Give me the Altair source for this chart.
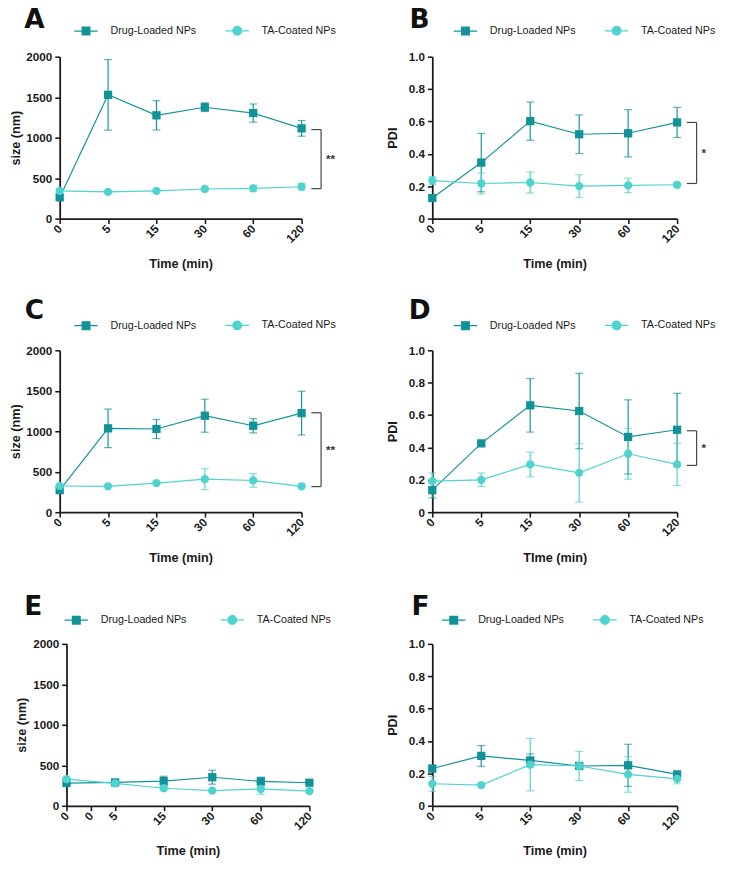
import json
import altair as alt
import pandas as pd

# ---------------- data ----------------
time_labels = ["0", "5", "15", "30", "60", "120"]
time_positions = [0, 1, 2, 3, 4, 5]
e_tick_positions = [0, 0.5, 1, 2, 3, 4, 5]
e_tick_labels = ["0", "0", "5", "15", "30", "60", "120"]

series_names = ["Drug-Loaded NPs", "TA-Coated NPs"]
series_keys = ["drug", "ta"]
series_colors = ["#12939a", "#4fd3cf"]

panel_letters = ["A", "B", "C", "D", "E", "F"]
y_titles = ["size (nm)", "PDI", "size (nm)", "PDI", "size (nm)", "PDI"]
x_titles = ["Time (min)", "Time (min)", "Time (min)", "TIme (min)", "Time (min)", "Time (min)"]

A_drug_mean = [262, 1529, 1276, 1376, 1304, 1115]
A_drug_sd = [25, 436, 181, 54, 112, 97]
A_ta_mean = [342, 330, 342, 366, 374, 394]
A_ta_sd = [15, 10, 12, 20, 38, 40]

B_drug_mean = [0.127, 0.346, 0.602, 0.521, 0.527, 0.594]
B_drug_sd = [0.015, 0.18, 0.118, 0.119, 0.146, 0.093]
B_ta_mean = [0.235, 0.217, 0.223, 0.201, 0.205, 0.209]
B_ta_sd = [0.024, 0.064, 0.065, 0.07, 0.045, 0.008]

C_drug_mean = [272, 1036, 1028, 1192, 1068, 1224]
C_drug_sd = [20, 238, 118, 204, 88, 270]
C_ta_mean = [324, 320, 360, 408, 392, 320]
C_ta_sd = [10, 10, 15, 130, 84, 10]

D_drug_mean = [0.136, 0.425, 0.66, 0.625, 0.465, 0.509]
D_drug_sd = [0.048, 0.01, 0.165, 0.233, 0.229, 0.225]
D_ta_mean = [0.192, 0.2, 0.295, 0.243, 0.361, 0.295]
D_ta_sd = [0.05, 0.042, 0.076, 0.18, 0.157, 0.13]

E_drug_mean = [281, 289, 305, 353, 301, 285]
E_drug_sd = [12, 10, 60, 86, 52, 10]
E_ta_mean = [329, 277, 217, 188, 208, 181]
E_ta_sd = [10, 10, 20, 10, 66, 10]

F_drug_mean = [0.23, 0.308, 0.28, 0.246, 0.25, 0.194]
F_drug_sd = [0.02, 0.064, 0.04, 0.015, 0.13, 0.015]
F_ta_mean = [0.136, 0.128, 0.254, 0.246, 0.194, 0.166]
F_ta_sd = [0.046, 0.01, 0.162, 0.09, 0.11, 0.03]

bracket_hi = [1100, 0.594, 1228, 0.503, None, None]
bracket_lo = [370, 0.217, 316, 0.289, None, None]
bracket_stars = ["**", "*", "**", "*", "", ""]

# ---------------- styling ----------------
FONT = "Liberation Sans"
LETTER_FONT = "DejaVu Sans"
INK = "#1a1a1a"
legend_paths = [
    "M-1,0H1M-0.33,-0.33H0.33V0.33H-0.33Z",
    "M-1,0H1M0.37,0A0.37,0.37,0,1,1,-0.37,0A0.37,0.37,0,1,1,0.37,0Z",
]

means = [
    (A_drug_mean, A_drug_sd, A_ta_mean, A_ta_sd),
    (B_drug_mean, B_drug_sd, B_ta_mean, B_ta_sd),
    (C_drug_mean, C_drug_sd, C_ta_mean, C_ta_sd),
    (D_drug_mean, D_drug_sd, D_ta_mean, D_ta_sd),
    (E_drug_mean, E_drug_sd, E_ta_mean, E_ta_sd),
    (F_drug_mean, F_drug_sd, F_ta_mean, F_ta_sd),
]

# layout per panel
widths = [248, 251, 248, 251, 256, 251]
x_offsets = [0, 0, 0, 0, 7, 0]
legend_xy = [(14, -40), (21, -40), (14, -39), (21, -39), (4, -38), (9, -38)]
letter_xy = [(-26, -29), (-13, -29), (-26, -32), (-13, -32), (-27, -30), (-12, -30)]
col_pad = [26, 26, 26, 26, 31, 26]


def make_panel(i):
    dm, ds, tm, ts = means[i]
    rows = []
    for s, (m, sd) in enumerate([(dm, ds), (tm, ts)]):
        for p, mv, sv in zip(time_positions, m, sd):
            rows.append({"pos": p, "mean": mv, "lo": mv - sv, "hi": mv + sv,
                         "series": series_names[s], "skey": series_keys[s]})
    df = pd.DataFrame(rows)
    is_size = (i % 2 == 0)
    ymax = 2000 if is_size else 1.0
    yvals = [0, 500, 1000, 1500, 2000] if is_size else [0, 0.2, 0.4, 0.6, 0.8, 1.0]
    ylab = "format(datum.value, 'd')" if is_size else \
        "datum.value == 0 ? '0' : format(datum.value, '.1f')"
    w = widths[i]
    off = x_offsets[i]
    if i == 4:
        tvals, tlabs = e_tick_positions, e_tick_labels
    else:
        tvals, tlabs = time_positions, time_labels
    xlab = f"{json.dumps(tlabs)}[indexof({json.dumps(tvals)}, datum.value)]"

    if off:
        xscale = alt.Scale(domain=[0, 5], nice=False, zero=False, range=[off, w])
    else:
        xscale = alt.Scale(domain=[0, 5], nice=False, zero=False)
    xaxis = alt.Axis(values=tvals, labelExpr=xlab, title=x_titles[i], labelAngle=-45,
                     labelAlign="right", labelBaseline="middle", labelPadding=3,
                     titlePadding=14)
    yaxis_kw = dict(values=yvals, labelExpr=ylab, title=y_titles[i],
                    titlePadding=4 if is_size else 9, labelPadding=3)
    if off:
        yaxis_kw["offset"] = -off
    yaxis = alt.Axis(**yaxis_kw)
    yscale = alt.Scale(domain=[0, ymax], nice=False, zero=True)

    def X(f="pos"):
        return alt.X(f, type="quantitative", scale=xscale, axis=xaxis)

    def Y(f):
        return alt.Y(f, type="quantitative", scale=yscale, axis=yaxis)

    col = alt.Color("skey:N", scale=alt.Scale(domain=series_keys, range=series_colors),
                    legend=None)
    base = alt.Chart(df)
    line = base.mark_line(strokeWidth=1.2).encode(x=X(), y=Y("mean"), color=col,
                                                   detail="skey:N")
    err = base.mark_rule(strokeWidth=1.2).encode(x=X(), y=Y("lo"), y2="hi", color=col)
    cap_lo = base.mark_tick(orient="horizontal", size=8, thickness=1.2).encode(
        x=X(), y=Y("lo"), color=col)
    cap_hi = base.mark_tick(orient="horizontal", size=8, thickness=1.2).encode(
        x=X(), y=Y("hi"), color=col)
    sq = base.transform_filter(alt.datum.skey == "drug").mark_square(
        size=72, opacity=1).encode(x=X(), y=Y("mean"), color=col)
    ci = base.transform_filter(alt.datum.skey == "ta").mark_circle(
        size=72, opacity=1).encode(x=X(), y=Y("mean"), color=col)

    lx, ly = legend_xy[i]
    leg = alt.Legend(orient="none", legendX=lx, legendY=ly, direction="horizontal",
                     title=None, labelFont=FONT, labelFontSize=11, labelFontWeight="normal",
                     labelColor=INK, symbolSize=576, symbolStrokeWidth=1.3,
                     symbolOpacity=1, labelOffset=12, columnPadding=col_pad[i])
    sc_fill = alt.Scale(domain=series_names, range=series_colors)
    legend_layer = base.transform_filter("datum.pos < 0").mark_point(
        filled=True, strokeWidth=1.3, opacity=1).encode(
        x=X(), y=Y("mean"),
        fill=alt.Fill("series:N", scale=sc_fill, legend=leg),
        stroke=alt.Stroke("series:N", scale=sc_fill, legend=leg),
        shape=alt.Shape("series:N", scale=alt.Scale(domain=series_names, range=legend_paths),
                        legend=leg),
    )

    tx, ty = letter_xy[i]
    letter = alt.Chart(pd.DataFrame({"letter": [panel_letters[i]]})).mark_text(
        font=LETTER_FONT, fontSize=27, fontWeight="bold", align="center",
        baseline="alphabetic", color="#111111").encode(
        text="letter:N", x=alt.value(tx), y=alt.value(ty))

    layers = [line, err, cap_lo, cap_hi, sq, ci, legend_layer, letter]

    if bracket_hi[i] is not None:
        bdf = pd.DataFrame({"hi": [bracket_hi[i]], "lo": [bracket_lo[i]],
                            "star": [bracket_stars[i]]})
        bb = alt.Chart(bdf)
        bc = "#444444"
        top = bb.mark_rule(color=bc, strokeWidth=1.2).encode(
            y=Y("hi"), x=alt.value(w + 10), x2=alt.value(w + 20))
        bot = bb.mark_rule(color=bc, strokeWidth=1.2).encode(
            y=Y("lo"), x=alt.value(w + 10), x2=alt.value(w + 20))
        vert = bb.mark_rule(color=bc, strokeWidth=1.2).encode(
            y=Y("hi"), y2="lo", x=alt.value(w + 20))
        star = bb.transform_calculate(mid="(datum.hi + datum.lo) / 2").mark_text(
            font=FONT, fontSize=12, fontWeight="bold", align="left", baseline="middle",
            color="#333333").encode(y=Y("mid"), x=alt.value(w + 25), text="star:N")
        layers += [top, bot, vert, star]

    return alt.layer(*layers).properties(width=w, height=166)


panels = [make_panel(i) for i in range(6)]

chart = alt.concat(*panels, columns=2, spacing={"row": 135, "column": 126},
                   bounds="flush").resolve_scale(
    color="independent", fill="independent", stroke="independent", shape="independent"
).resolve_legend(
    fill="independent", stroke="independent", shape="independent"
).properties(
    padding={"left": 1, "top": -12, "right": 5, "bottom": 5}
).configure_view(stroke=None).configure_axis(
    grid=False, domainColor=INK, domainWidth=1.8, tickColor=INK, tickWidth=1.6,
    tickSize=5, labelFont=FONT, labelFontSize=12, labelFontWeight="bold",
    labelColor=INK, titleFont=FONT, titleFontSize=13, titleFontWeight="bold",
    titleColor=INK
).configure_legend(labelFont=FONT)

chart.save("out.html", embed_options={"renderer": "svg", "actions": False})
